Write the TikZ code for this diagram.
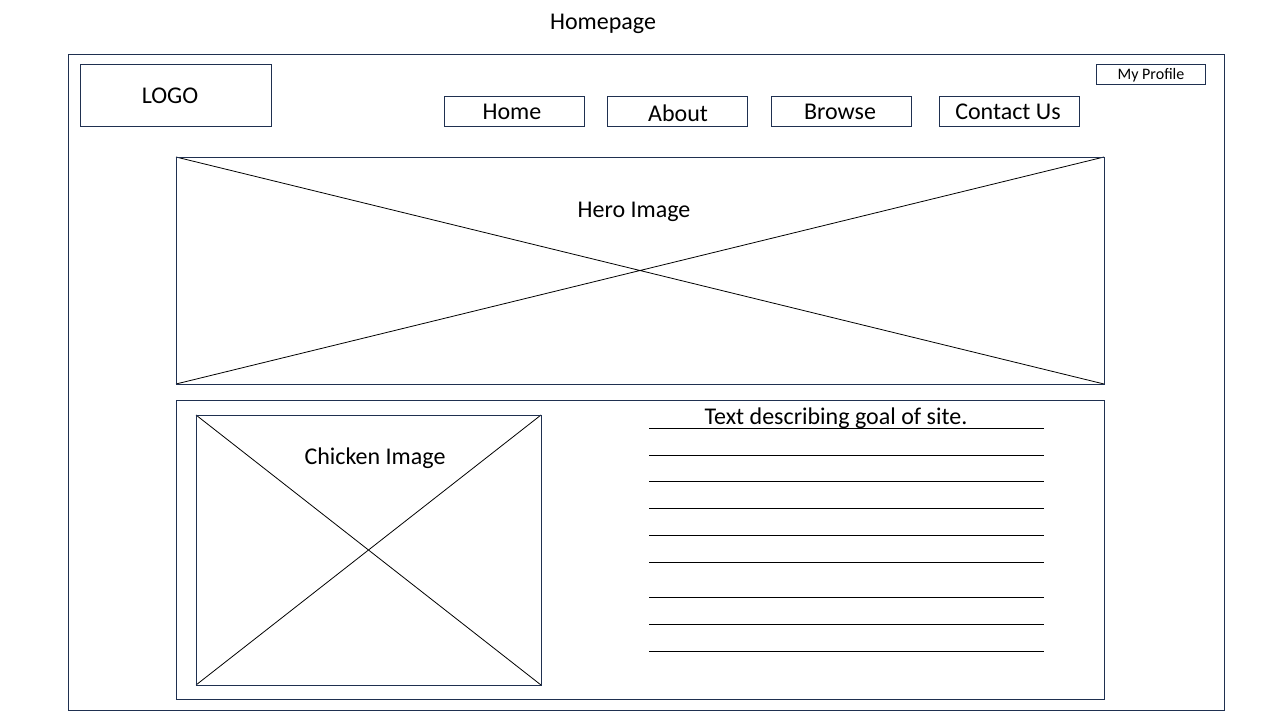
\documentclass[tikz,border=0pt]{standalone}
\usepackage{fontspec}
\setmainfont{Carlito}
\definecolor{navy}{HTML}{1F3050}
\begin{document}
\begin{tikzpicture}[x=1pt,y=-1pt,
  box/.style={draw=navy,line width=1pt},
  txt/.style={font=\fontsize{24}{28}\selectfont,inner sep=0pt,text=black},
  small/.style={font=\fontsize{16}{19}\selectfont,inner sep=0pt,text=black},
  cross/.style={draw=black,line width=0.8pt},
  rule/.style={draw=black,line width=1pt}]
\useasboundingbox[fill=white] (0,0) rectangle (1280,720);
\node[txt] (title) at (603,24) {Homepage};
\draw[box] (68,54) rectangle (1224,710);
\draw[box] (80,64) rectangle (271,126);
\node[txt] (logo) at (170,96) {LOGO};
\draw[box] (1096,64) rectangle (1205,84);
\node[small] (prof) at (1151,75) {My Profile};
\draw[box] (444,96) rectangle (584,126);
\node[txt] (home) at (512,112) {Home};
\draw[box] (607,96) rectangle (747,126);
\node[txt] (about) at (678,113) {About};
\draw[box] (771,96) rectangle (911,126);
\node[txt] (browse) at (840,112) {Browse};
\draw[box] (939,96) rectangle (1079,126);
\node[txt] (contact) at (1008,112) {Contact Us};
% hero
\draw[cross] (176,157) -- (1104,384) (176,384) -- (1104,157);
\draw[box] (176,157) rectangle (1104,384);
\node[txt] (hero) at (634,212) {Hero Image};
% lower panel
\draw[box] (176,400) rectangle (1104,699);
\draw[cross] (196,415) -- (541,685) (196,685) -- (541,415);
\draw[box] (196,415) rectangle (541,685);
\node[txt] (chick) at (375,458) {Chicken Image};
\node[txt] (desc) at (836,418) {Text describing goal of site.};
\foreach \yy in {428,455,481,508,535,562,597,624,651}
  \draw[rule] (649,\yy) -- (1044,\yy);
\end{tikzpicture}
\end{document}
